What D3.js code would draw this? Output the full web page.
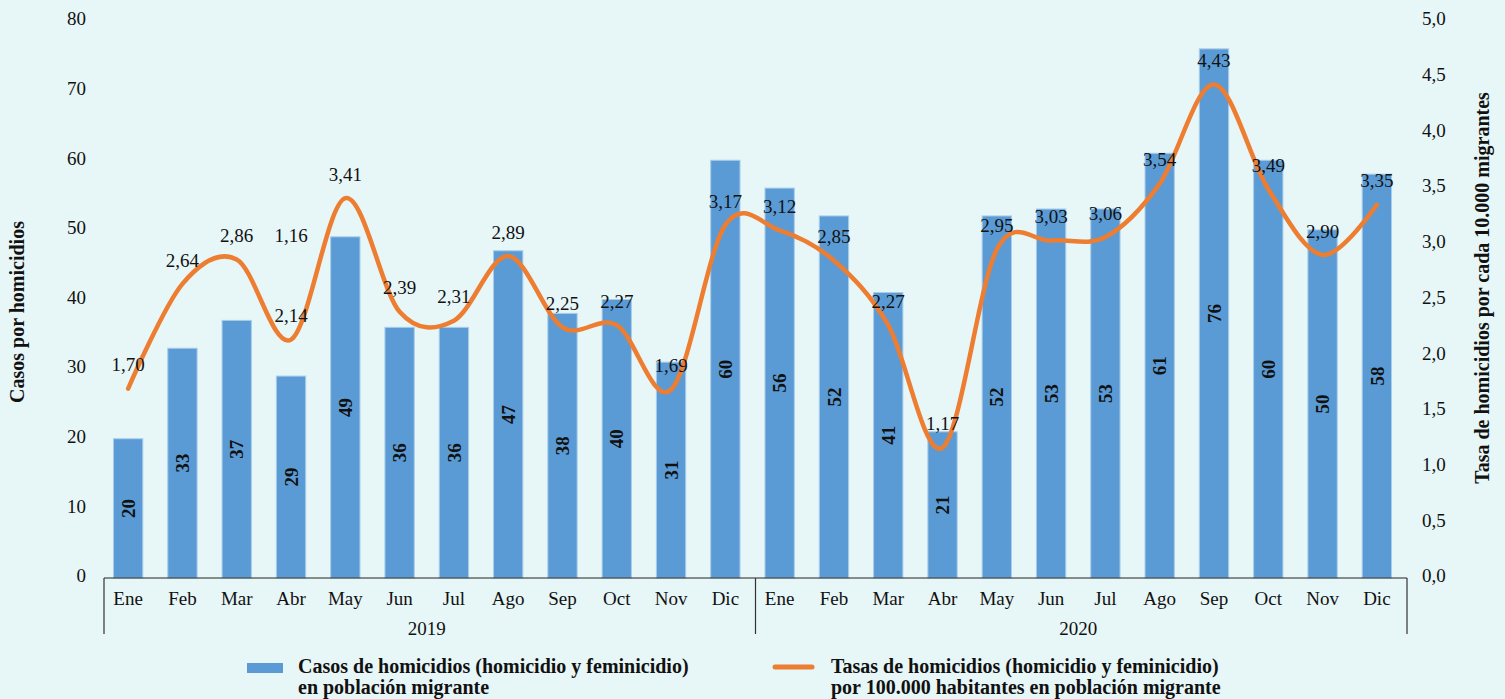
<!DOCTYPE html>
<html>
  <head>
    <meta charset="utf-8">
    <title>Homicidios en población migrante</title>
    <script src="https://cdnjs.cloudflare.com/ajax/libs/d3/7.8.5/d3.min.js"></script>
    <style>
      body { margin:0; background:#e7f6f7; }
      svg text { font-family:"Liberation Serif","DejaVu Serif",serif; fill:#111; }
    </style>
  </head>
  <body>
    <script>
      // data
      var months = ["Ene","Feb","Mar","Abr","May","Jun","Jul","Ago","Sep","Oct","Nov","Dic"];
      var years = ["2019","2020"];
      var casos = [20,33,37,29,49,36,36,47,38,40,31,60, 56,52,41,21,52,53,53,61,76,60,50,58];
      var tasas = [1.70,2.64,2.86,2.14,3.41,2.39,2.31,2.89,2.25,2.27,1.69,3.17,
                   3.12,2.85,2.27,1.17,2.95,3.03,3.06,3.54,4.43,3.49,2.90,3.35];
      var extraLabel = "1,16"; // stray label shown above Abr 2019
      var leftTicks = [0,10,20,30,40,50,60,70,80];
      var rightTicks = [0,0.5,1,1.5,2,2.5,3,3.5,4,4.5,5];

      var W = 1505, H = 699;
      var svg = d3.select("body").append("svg")
                  .attr("width", W)
                  .attr("height", H);

      svg.append("rect").attr("width", W).attr("height", H).attr("fill", "#e7f6f7");

      var keys = [];
      years.forEach(function(y){ months.forEach(function(m){ keys.push(y + "-" + m); }); });

      var x = d3.scaleBand().domain(keys).range([101, 1404]).paddingInner(0.46).paddingOuter(0.23);
      var yL = d3.scaleLinear().domain([0, 80]).range([578, 21]);
      var yR = d3.scaleLinear().domain([0, 5]).range([578, 21]);
      var fmt = function(v){ return d3.format(".2f")(v).replace(".", ","); };
      var cx = function(i){ return x(keys[i]) + x.bandwidth()/2; };

      // bars
      svg.selectAll("rect.bar").data(casos).enter().append("rect")
         .attr("class", "bar")
         .attr("x", function(d, i){ return x(keys[i]); })
         .attr("y", function(d){ return yL(d); })
         .attr("width", x.bandwidth())
         .attr("height", function(d){ return yL(0) - yL(d); })
         .attr("fill", "#5b9bd5")
         .attr("stroke", "#a8cdea")
         .attr("stroke-width", 1);

      // bar labels
      svg.selectAll("text.blab").data(casos).enter().append("text")
         .attr("class", "blab")
         .attr("transform", function(d, i){
           return "translate(" + cx(i) + "," + ((yL(d) + yL(0))/2) + ") rotate(-90)";
         })
         .attr("text-anchor", "middle")
         .attr("dy", "0.35em")
         .attr("font-size", 19)
         .attr("font-weight", "bold")
         .text(function(d){ return d; });

      // bottom axis
      var x0 = 104, x1 = 1407;
      var xa = svg.append("g");
      xa.append("line").attr("x1", x0).attr("x2", x1).attr("y1", 578).attr("y2", 578)
        .attr("stroke", "#222").attr("stroke-width", 1.2);
      [x0, (x0 + x1)/2, x1].forEach(function(px){
        xa.append("line").attr("x1", px).attr("x2", px).attr("y1", 578).attr("y2", 634)
          .attr("stroke", "#333").attr("stroke-width", 1.2);
      });
      xa.selectAll("text.mon").data(keys).enter().append("text")
        .attr("class", "mon")
        .attr("x", function(d, i){ return cx(i); })
        .attr("y", 605)
        .attr("text-anchor", "middle")
        .attr("font-size", 19)
        .text(function(d){ return d.split("-")[1]; });
      xa.selectAll("text.yr").data(years).enter().append("text")
        .attr("class", "yr")
        .attr("x", function(d, i){ return (cx(i*12) + cx(i*12+11))/2; })
        .attr("y", 635)
        .attr("text-anchor", "middle")
        .attr("font-size", 19)
        .text(function(d){ return d; });

      // left axis
      var la = svg.append("g").attr("transform", "translate(86,0)")
        .call(d3.axisLeft(yL).tickValues(leftTicks).tickSize(0).tickPadding(0));
      la.select(".domain").remove();
      la.selectAll("text").attr("font-size", 19).attr("font-family", null).attr("dy", "0.2em");

      // right axis
      var ra = svg.append("g").attr("transform", "translate(1422,0)")
        .call(d3.axisRight(yR).tickValues(rightTicks).tickSize(0).tickPadding(0)
              .tickFormat(function(d){ return d3.format(".1f")(d).replace(".", ","); }));
      ra.select(".domain").remove();
      ra.selectAll("text").attr("font-size", 19).attr("font-family", null).attr("dy", "0.2em");

      // axis titles
      svg.append("text")
         .attr("transform", "translate(24,312) rotate(-90)")
         .attr("text-anchor", "middle")
         .attr("font-size", 20).attr("font-weight", "bold")
         .text("Casos por homicidios");
      svg.append("text")
         .attr("transform", "translate(1489,288) rotate(-90)")
         .attr("text-anchor", "middle")
         .attr("font-size", 20).attr("font-weight", "bold")
         .text("Tasa de homicidios por cada 10.000 migrantes");

      // line
      var line = d3.line()
        .x(function(d, i){ return cx(i); })
        .y(function(d){ return yR(d); })
        .curve(d3.curveCardinal.tension(0));
      svg.append("path").datum(tasas)
         .attr("d", line)
         .attr("fill", "none")
         .attr("stroke", "#ed7d31")
         .attr("stroke-width", 4.5)
         .attr("stroke-linecap", "round");

      // line labels
      svg.selectAll("text.llab").data(tasas).enter().append("text")
         .attr("class", "llab")
         .attr("x", function(d, i){ return cx(i); })
         .attr("y", function(d){ return yR(d) - 24; })
         .attr("dy", "0.35em")
         .attr("text-anchor", "middle")
         .attr("font-size", 19)
         .text(fmt);
      svg.append("text")
         .attr("x", cx(3))
         .attr("y", yR(tasas[3]) - 104)
         .attr("dy", "0.35em")
         .attr("text-anchor", "middle")
         .attr("font-size", 19)
         .text(extraLabel);

      // legend
      var lg = svg.append("g");
      lg.append("rect").attr("x", 247).attr("y", 663).attr("width", 36).attr("height", 10).attr("fill", "#5b9bd5");
      lg.append("text").attr("x", 298).attr("y", 673).attr("font-size", 20).attr("font-weight", "bold")
        .text("Casos de homicidios (homicidio y feminicidio)");
      lg.append("text").attr("x", 298).attr("y", 694).attr("font-size", 20).attr("font-weight", "bold")
        .text("en población migrante");
      lg.append("line").attr("x1", 775).attr("x2", 812).attr("y1", 667).attr("y2", 667)
        .attr("stroke", "#ed7d31").attr("stroke-width", 5).attr("stroke-linecap", "round");
      lg.append("text").attr("x", 831).attr("y", 673).attr("font-size", 20).attr("font-weight", "bold")
        .text("Tasas de homicidios (homicidio y feminicidio)");
      lg.append("text").attr("x", 831).attr("y", 694).attr("font-size", 20).attr("font-weight", "bold")
        .text("por 100.000 habitantes en población migrante");
    </script>
  </body>
</html>
